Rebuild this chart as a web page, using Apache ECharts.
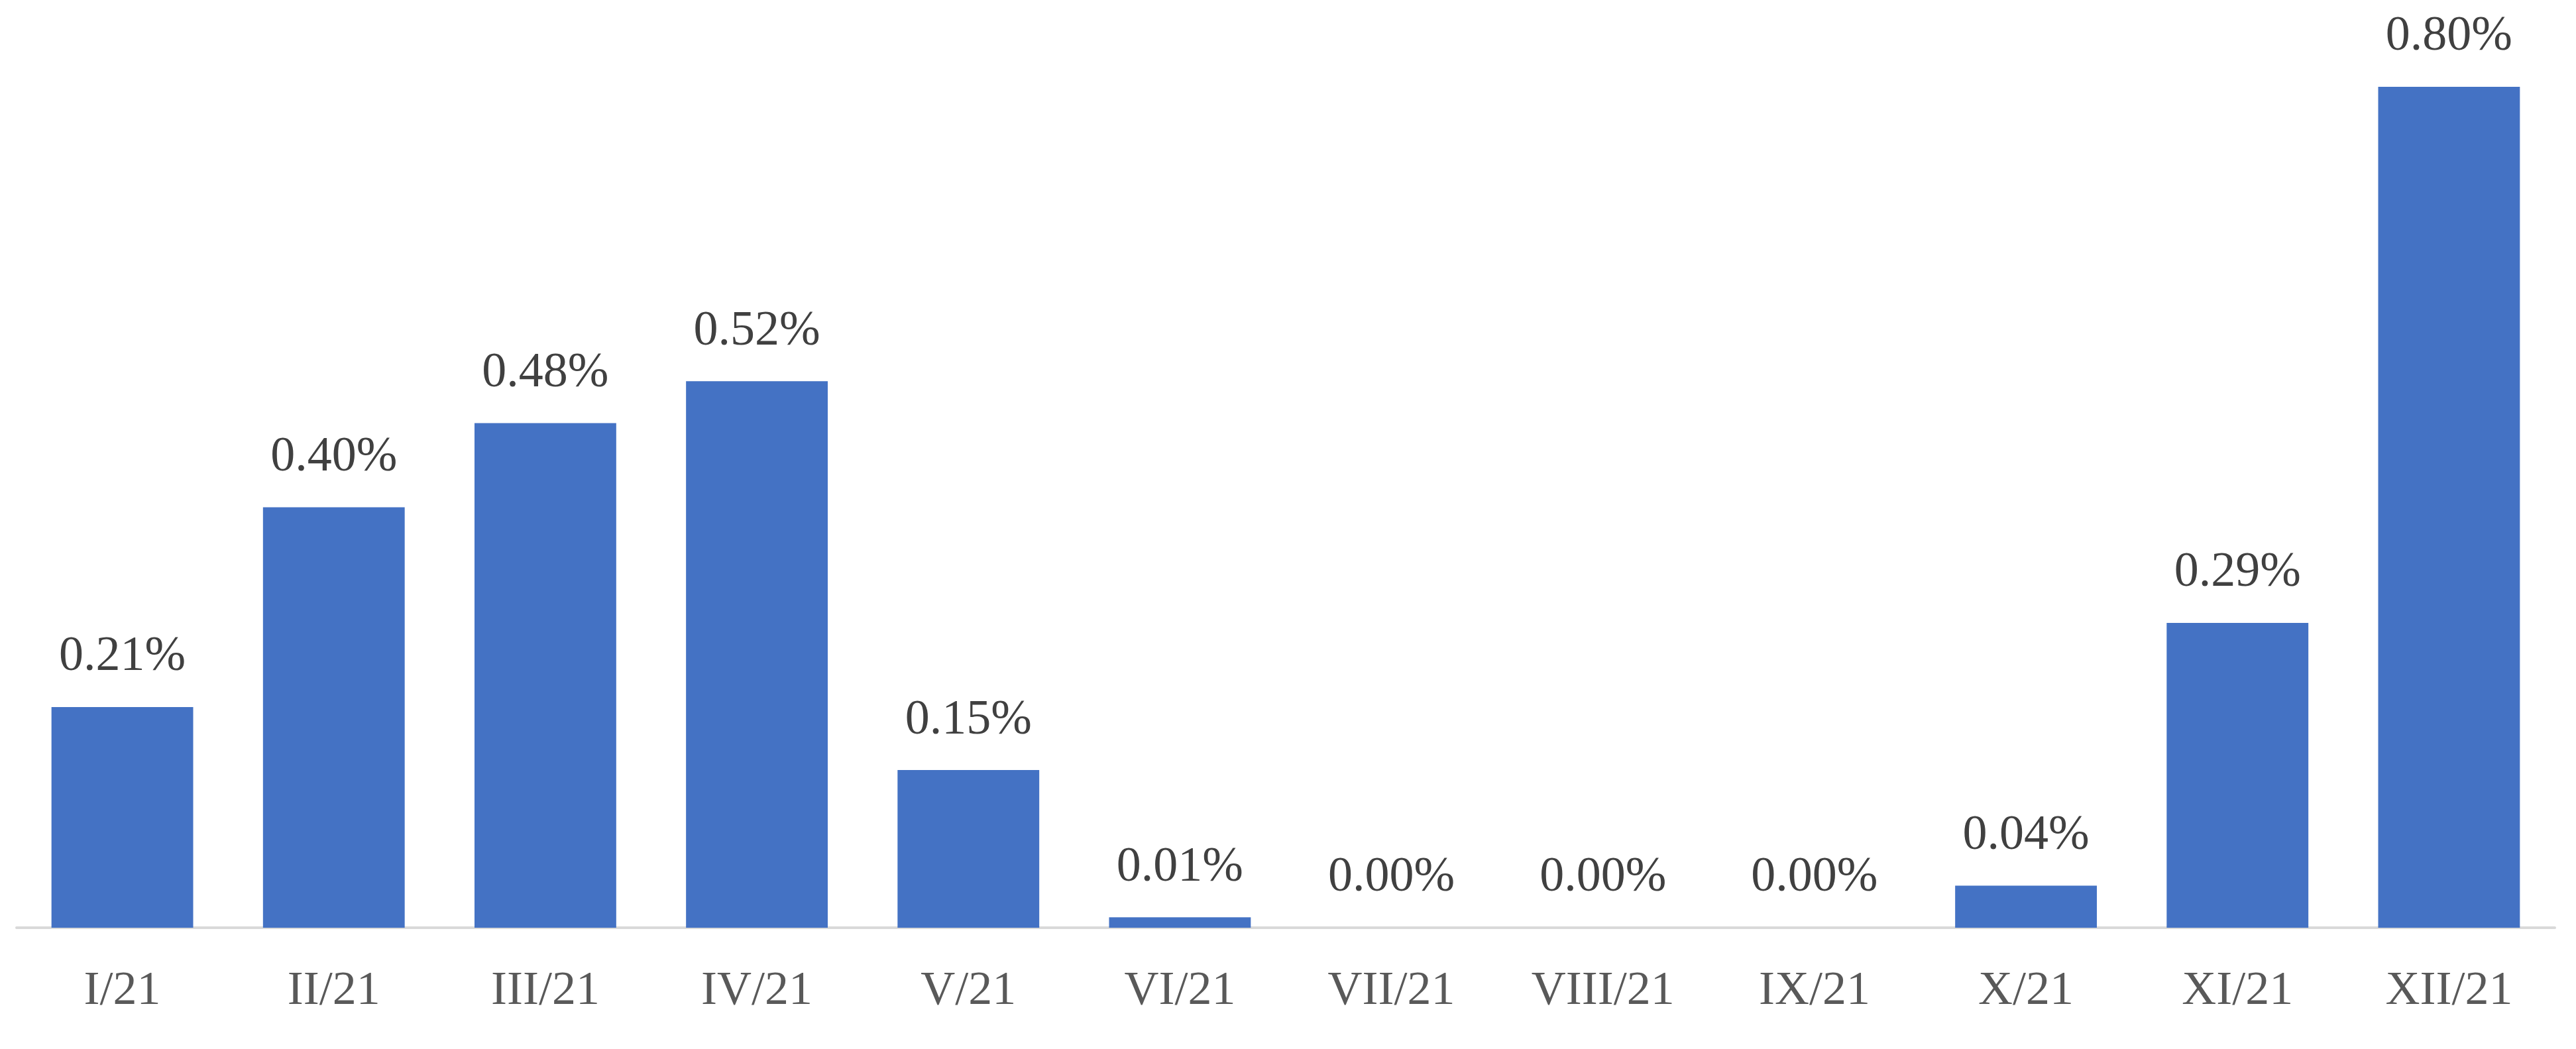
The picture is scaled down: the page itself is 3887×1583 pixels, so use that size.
<!DOCTYPE html>
<html><head><meta charset="utf-8">
<script src="https://cdn.jsdelivr.net/npm/echarts@6/dist/echarts.min.js"></script>
<style>html,body{margin:0;padding:0;background:#fff}#c{width:3887px;height:1583px}</style>
</head><body><div id="c"></div>
<script>
const categories = ['I/21','II/21','III/21','IV/21','V/21','VI/21','VII/21','VIII/21','IX/21','X/21','XI/21','XII/21'];
const values = [0.21,0.40,0.48,0.52,0.15,0.01,0.00,0.00,0.00,0.04,0.29,0.80];
const chart = echarts.init(document.getElementById('c'));
chart.setOption({
  animation:false,
  grid:{left:25,right:32,top:0,bottom:183},
  xAxis:{type:'category',data:categories,
    axisLine:{lineStyle:{color:'#d9d9d9',width:4}},axisTick:{show:false},
    axisLabel:{color:'#595959',fontFamily:'Liberation Serif',fontSize:72,margin:60}},
  yAxis:{type:'value',min:0,max:0.8826,show:false,splitLine:{show:false}},
  series:[{type:'bar',data:values,barWidth:'67%',itemStyle:{color:'#4472C4'},
    label:{show:true,position:'top',distance:38,color:'#404040',fontFamily:'Liberation Serif',fontSize:74,
      formatter:p=>p.value.toFixed(2)+'%'}}]
});
</script></body></html>
